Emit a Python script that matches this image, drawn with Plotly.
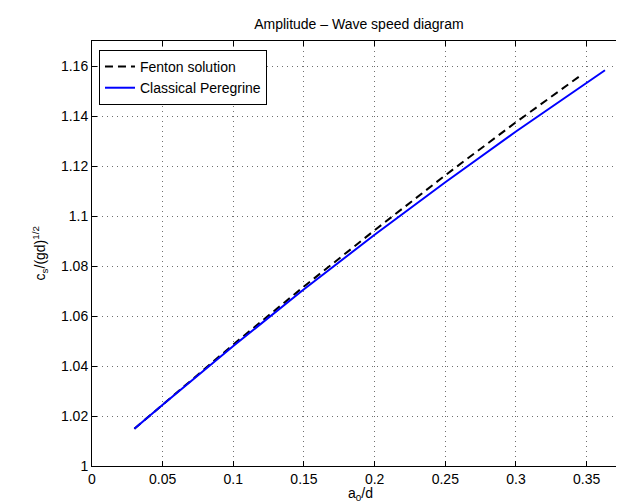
import plotly.graph_objects as go

# Data
fenton_a = [0.03, 0.05, 0.10, 0.15, 0.20, 0.25, 0.30, 0.347]
fenton_c = [1.0149, 1.0246, 1.0486, 1.0718, 1.0943, 1.1163, 1.1375, 1.1567]

peregrine_a = [0.03, 0.05, 0.10, 0.15, 0.20, 0.25, 0.30, 0.363]
peregrine_c = [1.0149, 1.0245, 1.0480, 1.0707, 1.0925, 1.1135, 1.1338, 1.1583]

x_ticks = [0, 0.05, 0.1, 0.15, 0.2, 0.25, 0.3, 0.35]
x_tick_labels = ["0", "0.05", "0.1", "0.15", "0.2", "0.25", "0.3", "0.35"]
y_ticks = [1, 1.02, 1.04, 1.06, 1.08, 1.1, 1.12, 1.14, 1.16]
y_tick_labels = ["1", "1.02", "1.04", "1.06", "1.08", "1.1", "1.12", "1.14", "1.16"]

FONT = "Liberation Sans, Arial, Helvetica, sans-serif"

fig = go.Figure()
fig.add_trace(go.Scatter(
    x=fenton_a, y=fenton_c, mode="lines", name="Fenton solution",
    line=dict(color="black", width=2, dash="8px,5px"),
))
fig.add_trace(go.Scatter(
    x=peregrine_a, y=peregrine_c, mode="lines", name="Classical Peregrine",
    line=dict(color="#0000ff", width=2),
))

axis_common = dict(
    showline=True, linecolor="black", linewidth=1, mirror="ticks",
    ticks="inside", ticklen=5, tickcolor="black", tickwidth=1,
    showgrid=True, gridcolor="#707070", gridwidth=1, griddash="1px,4px",
    zeroline=False, automargin=False,
    tickfont=dict(family=FONT, size=14, color="black"),
)

fig.update_xaxes(range=[0, 0.38], tickmode="array", tickvals=x_ticks,
                 ticktext=x_tick_labels, **axis_common)
fig.update_yaxes(range=[1, 1.17], tickmode="array", tickvals=y_ticks,
                 ticktext=y_tick_labels, **axis_common)

fig.update_layout(
    width=624, height=502,
    margin=dict(l=84, r=3, t=33, b=44),
    paper_bgcolor="white", plot_bgcolor="white",
    font=dict(family=FONT, size=14, color="black"),
    title=dict(text="Amplitude – Wave speed diagram", x=0.5624, xanchor="center",
               y=1 - 16 / 502, yanchor="middle",
               font=dict(family=FONT, size=14, color="black")),
    showlegend=True,
    legend=dict(x=0.013, y=0.979, xanchor="left", yanchor="top",
                bgcolor="white", bordercolor="black", borderwidth=1,
                font=dict(family=FONT, size=14, color="black"),
                tracegroupgap=0, itemwidth=30),
    annotations=[
        dict(text="a<sub>0</sub>/d", xref="paper", yref="paper",
             x=0.5, y=-0.04, xanchor="center", yanchor="top",
             showarrow=False, font=dict(family=FONT, size=14, color="black")),
        dict(text="c<sub>s</sub>/(gd)<sup>1/2</sup>", xref="paper", yref="paper",
             x=-0.097, y=0.5, xanchor="center", yanchor="middle", textangle=-90,
             showarrow=False, font=dict(family=FONT, size=14, color="black")),
    ],
)

fig.write_html("out.html")
